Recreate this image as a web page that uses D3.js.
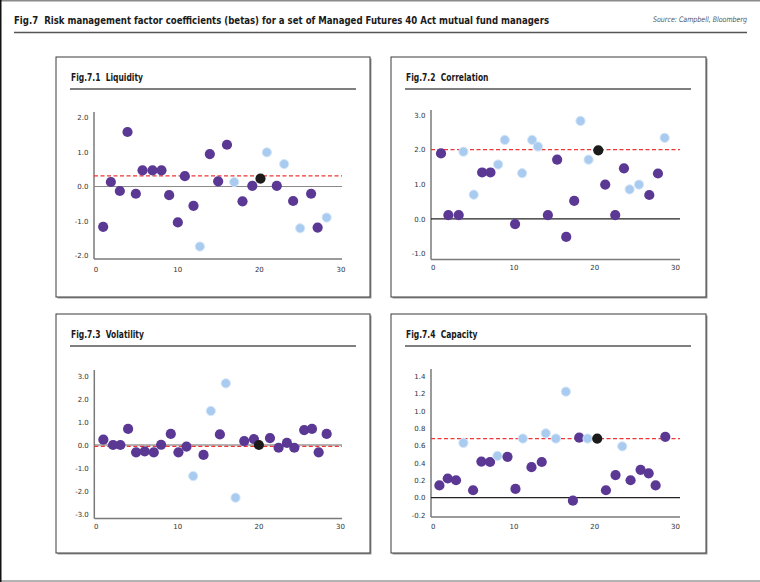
<!DOCTYPE html>
<html><head><meta charset="utf-8">
<script src="https://cdn.jsdelivr.net/npm/d3@7"></script>
<style>
html,body{margin:0;padding:0;background:#fff;}
svg{display:block;}
</style></head>
<body>
<svg id="chart" width="760" height="582"></svg>
<script>
// ---------------- DATA ----------------
const mainTitle = "Fig.7\u00a0\u00a0Risk management factor coefficients (betas) for a set of Managed Futures 40 Act mutual fund managers";
const sourceText = "Source: Campbell, Bloomberg";
const panelTitles = ["Fig.7.1\u00a0\u00a0Liquidity", "Fig.7.2\u00a0\u00a0Correlation", "Fig.7.3\u00a0\u00a0Volatility", "Fig.7.4\u00a0\u00a0Capacity"];
const xTicks = [0, 10, 20, 30];

// s = significant (purple), n = not significant (light blue), c = Campbell (black)
const liquidityX = [0.94,1.88,2.98,3.92,4.94,5.76,6.98,8.08,9.02,10.08,10.94,12.0,12.78,14.0,15.02,16.1,16.98,18.0,19.2,20.2,20.98,22.2,23.1,24.2,25.06,26.4,27.2,28.3];
const liquidityY = [-1.17,0.13,-0.13,1.58,-0.21,0.47,0.47,0.47,-0.25,-1.04,0.30,-0.56,-1.74,0.94,0.15,1.21,0.13,-0.43,0.02,0.23,0.99,0.02,0.65,-0.42,-1.21,-0.21,-1.19,-0.90];
const liquidityType = "s s s s s s s s s s s s n s s s n s s c n s n s n s s n".split(" ");
const liquidityAvg = 0.31;
const liquidityTicks = [-2,-1,0,1,2];

const correlationX = [1.03,1.94,3.22,3.8,5.08,6.12,7.15,8.1,8.93,10.2,11.07,12.31,13.02,14.26,15.41,16.53,17.52,18.3,19.3,20.5,21.36,22.6,23.68,24.38,25.54,26.82,27.89,28.72];
const correlationY = [1.89,0.11,0.11,1.94,0.70,1.34,1.34,1.57,2.28,-0.15,1.32,2.28,2.09,0.11,1.71,-0.52,0.52,2.83,1.71,1.98,0.99,0.11,1.46,0.85,0.99,0.69,1.31,2.34];
const correlationType = "s s s n n s s n n s n n n s s s s n n c s s s n n s s n".split(" ");
const correlationAvg = 2.0;
const correlationTicks = [-1,0,1,2,3];

const volatilityX = [0.94,2.13,3.03,3.98,4.96,6.02,7.13,8.03,9.22,10.16,11.15,11.97,13.24,14.14,15.25,15.98,17.17,18.24,19.43,20.04,21.4,22.46,23.48,24.39,25.6,26.56,27.38,28.36];
const volatilityY = [0.23,0.0,0.0,0.70,-0.32,-0.28,-0.32,0.01,0.48,-0.32,-0.07,-1.35,-0.43,1.48,0.46,2.68,-2.29,0.17,0.26,0.0,0.30,-0.12,0.09,-0.12,0.65,0.70,-0.32,0.48];
const volatilityType = "s s s s s s s s s s s n s n s n n s s c s s s s s s s s".split(" ");
const volatilityAvg = -0.06;
const volatilityTicks = [-3,-2,-1,0,1,2,3];

const capacityX = [0.83,1.86,2.89,3.8,5.0,6.03,7.1,8.02,9.26,10.25,11.16,12.23,13.5,14.0,15.25,16.49,17.36,18.14,19.17,20.37,21.45,22.64,23.47,24.5,25.74,26.74,27.6,28.8];
const capacityY = [0.14,0.22,0.20,0.63,0.085,0.415,0.41,0.48,0.47,0.10,0.68,0.35,0.41,0.74,0.68,1.22,-0.035,0.69,0.68,0.68,0.085,0.26,0.59,0.20,0.32,0.28,0.14,0.70];
const capacityType = "s s s n s s s n s s n s s n n n s s n c s s n s s s s s".split(" ");
const capacityAvg = 0.68;
const capacityTicks = [-0.2,0,0.2,0.4,0.6,0.8,1.0,1.2,1.4];

// ---------------- LAYOUT ----------------
const svg = d3.select("#chart");
const W = 760, H = 582;
const boldFont = "'DejaVu Sans Condensed','Open Sans',sans-serif";
const tickFont = "'DejaVu Sans','Verdana',sans-serif";

// outer frame
svg.append("line").attr("x1",0).attr("x2",W).attr("y1",0.75).attr("y2",0.75).attr("stroke","#8a8a8a").attr("stroke-width",1.5);
svg.append("line").attr("x1",0).attr("x2",W).attr("y1",581).attr("y2",581).attr("stroke","#9a9a9a").attr("stroke-width",1.5);
svg.append("line").attr("x1",0.75).attr("x2",0.75).attr("y1",0).attr("y2",H).attr("stroke","#111").attr("stroke-width",1.5);

// main title (condensed to the reference width)
svg.append("text").attr("x",14).attr("y",23.5)
  .attr("font-family",boldFont).attr("font-weight","bold").attr("font-size",11)
  .attr("textLength",535).attr("lengthAdjust","spacingAndGlyphs")
  .attr("fill","#1a1a1a").text(mainTitle);
svg.append("text").attr("x",747).attr("y",22).attr("text-anchor","end")
  .attr("font-family",boldFont).attr("font-style","italic").attr("font-size",7.6)
  .attr("textLength",94).attr("lengthAdjust","spacingAndGlyphs")
  .attr("fill","#555").text(sourceText);
svg.append("line").attr("x1",14).attr("x2",747).attr("y1",32.5).attr("y2",32.5)
  .attr("stroke","#555").attr("stroke-width",1.5);

const colors = { s: "#5a3894", n: "#a9cbf0", c: "#1b1b1b" };

const panels = [
  { title: panelTitles[0], X: liquidityX, Y: liquidityY, T: liquidityType, avg: liquidityAvg, ticks: liquidityTicks,
    box: [56,57,314,240], xr: [95.5,340.5], yd: [-2,2], yr: [255.5,117.5], axisX: 94, axisTop: 112, axisBottom: 259, xEnd: 342, xLabY: 274, zeroCol: "#8a8a8a" },
  { title: panelTitles[1], X: correlationX, Y: correlationY, T: correlationType, avg: correlationAvg, ticks: correlationTicks,
    box: [391,57,315,240], xr: [432.7,675], yd: [-1,3], yr: [253.5,115], axisX: 431, axisTop: 110, axisBottom: 259.5, xEnd: 680, xLabY: 272, zeroCol: "#222" },
  { title: panelTitles[2], X: volatilityX, Y: volatilityY, T: volatilityType, avg: volatilityAvg, ticks: volatilityTicks,
    box: [56,314,314,239], xr: [95.7,340], yd: [-3,3], yr: [514,376], axisX: 94.3, axisTop: 370, axisBottom: 518.5, xEnd: 342, xLabY: 531, zeroCol: "#6a6a6a" },
  { title: panelTitles[3], X: capacityX, Y: capacityY, T: capacityType, avg: capacityAvg, ticks: capacityTicks,
    box: [391,314,315,239], xr: [432.7,675], yd: [-0.2,1.4], yr: [515,376], axisX: 431, axisTop: 369, axisBottom: 517, xEnd: 680, xLabY: 531, zeroCol: "#222" }
];

panels.forEach(p => {
  const [bx,by,bw,bh] = p.box;
  const g = svg.append("g");
  // shadow
  g.append("rect").attr("x",bx+1.5).attr("y",by+1.5).attr("width",bw).attr("height",bh).attr("fill","#9a9a9a");
  g.append("rect").attr("x",bx).attr("y",by).attr("width",bw).attr("height",bh)
    .attr("fill","#fff").attr("stroke","#3a3a3a").attr("stroke-width",1);
  // title
  const pt = g.append("text").attr("x",bx+15).attr("y",by+24)
    .attr("font-family",boldFont).attr("font-weight","bold").attr("font-size",10.5)
    .attr("fill","#1a1a1a").text(p.title);
  const nat = pt.node().getComputedTextLength();
  pt.attr("textLength", nat * 0.8).attr("lengthAdjust","spacingAndGlyphs");
  g.append("line").attr("x1",bx+14).attr("x2",bx+300).attr("y1",by+32).attr("y2",by+32)
    .attr("stroke","#555").attr("stroke-width",1.5);

  const x = d3.scaleLinear().domain([0,30]).range(p.xr);
  const y = d3.scaleLinear().domain(p.yd).range(p.yr);

  // y axis (labels only, line drawn separately)
  const yAxis = d3.axisLeft(y).tickValues(p.ticks).tickSize(0).tickPadding(0)
    .tickFormat(d3.format(".1f"));
  const ya = g.append("g").attr("transform",`translate(${p.axisX - 5.5},0)`).call(yAxis);
  ya.select(".domain").remove();
  ya.selectAll("text").attr("font-family",tickFont).attr("font-size",7).attr("fill","#333")
    .text(d => d3.format(".1f")(d).replace("−","-"));

  // x axis labels
  const xAxis = d3.axisBottom(x).tickValues(xTicks).tickSize(0).tickPadding(0).tickFormat(d3.format("d"));
  const xa = g.append("g").attr("transform",`translate(0,${p.xLabY - 7})`).call(xAxis);
  xa.select(".domain").remove();
  xa.selectAll("text").attr("font-family",tickFont).attr("font-size",7).attr("fill","#333").attr("dy","0.71em");

  // axis lines
  g.append("line").attr("x1",p.axisX).attr("x2",p.axisX).attr("y1",p.axisTop).attr("y2",p.axisBottom)
    .attr("stroke","#7a7a7a").attr("stroke-width",1.5);
  g.append("line").attr("x1",p.axisX).attr("x2",p.xEnd).attr("y1",p.axisBottom).attr("y2",p.axisBottom)
    .attr("stroke","#7a7a7a").attr("stroke-width",1.5);
  // zero line
  g.append("line").attr("x1",p.axisX).attr("x2",p.xEnd).attr("y1",y(0)).attr("y2",y(0))
    .attr("stroke",p.zeroCol).attr("stroke-width",1.2);
  // average dashed line
  g.append("line").attr("x1",p.axisX).attr("x2",p.xEnd).attr("y1",y(p.avg)).attr("y2",y(p.avg))
    .attr("stroke","#ef3535").attr("stroke-width",1.3).attr("stroke-dasharray","4,2.5");

  const data = p.X.map((v,i) => ({ x: v, y: p.Y[i], t: p.T[i] }));
  const order = data.filter(d => d.t !== "c").concat(data.filter(d => d.t === "c"));
  g.selectAll("circle.dot").data(order).join("circle").attr("class","dot")
    .attr("cx", d => x(d.x)).attr("cy", d => y(d.y))
    .attr("r", d => d.t === "n" ? 4.6 : 5.1)
    .attr("fill", d => colors[d.t])
    .attr("stroke", d => d.t === "n" ? "#d3e5f8" : "none")
    .attr("stroke-width", d => d.t === "n" ? 1 : 0);
});
</script>
</body></html>
